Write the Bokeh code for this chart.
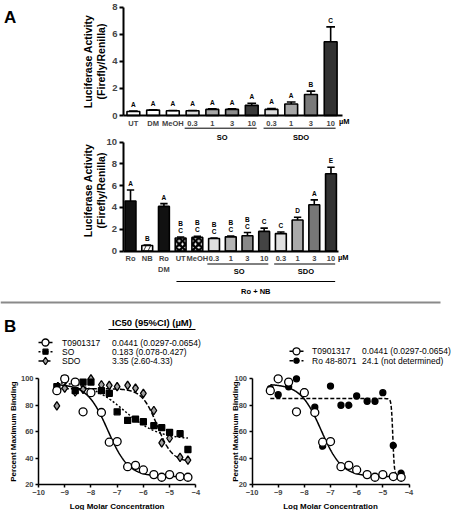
import numpy as np
from bokeh.plotting import figure
from bokeh.models import Range1d, LinearAxis, FixedTicker
from bokeh.core.properties import value
from bokeh.embed import file_html
from bokeh.resources import INLINE

# ---------------- data: panel A, top (no Ro) ----------------
top_labels = ["UT", "DM", "MeOH", "0.3", "1", "3", "10", "0.3", "1", "3", "10"]
top_means = [0.30, 0.40, 0.35, 0.35, 0.45, 0.45, 0.75, 0.45, 0.85, 1.55, 5.45]
top_upper = [0.33, 0.42, 0.37, 0.37, 0.50, 0.50, 0.90, 0.52, 1.00, 1.80, 6.55]
top_letters = ["A", "A", "A", "A", "A", "A", "A", "A", "A", "B", "C"]
top_groups = [("SO", 3, 6), ("SDO", 7, 10)]

# ---------------- data: panel A, bottom (Ro + NB) ----------------
bot_labels = ["Ro", "NB", "Ro\nDM", "UT", "MeOH", "0.3", "1", "3", "10", "0.3", "1", "3", "10"]
bot_means = [4.60, 0.50, 4.10, 1.20, 1.25, 1.15, 1.30, 1.40, 1.80, 1.60, 2.85, 4.25, 7.10]
bot_upper = [5.60, 0.55, 4.35, 1.28, 1.35, 1.18, 1.38, 1.70, 2.10, 1.75, 3.10, 4.70, 7.70]
bot_letters = ["A", "B", "A", "B\nC", "B\nC", "B\nC", "B\nC", "B\nC", "C", "C", "D", "A", "E"]
bot_groups = [("SO", 5, 8), ("SDO", 9, 12)]
bot_outer_group = ("Ro + NB", 3, 12)
unit_label = "µM"

# ---------------- data: panel B (binding) ----------------
log_conc = [-9.30, -9.00, -8.60, -8.30, -8.00, -7.60, -7.30, -7.00,
            -6.60, -6.30, -6.00, -5.60, -5.30, -5.00, -4.60, -4.30]
t09_bind = [91.0, 100.0, 97.5, 75.0, 89.5, 74.5, 52.0, 52.5,
            33.5, 34.5, 31.0, 27.5, 25.5, 27.5, 26.0, 25.5]
so_bind = [94.0, 100.0, 91.0, 97.5, 97.5, 91.0, 89.0, 75.0,
           68.5, 69.5, 67.5, 64.5, 63.0, 59.5, 58.5, 46.5]
sdo_bind = [79.5, 93.0, 90.0, 92.0, 100.0, 95.5, 95.0, 94.0,
            95.0, 93.0, 89.0, 76.0, 51.5, 55.0, 40.5, 38.5]
ro_bind = [92.5, 88.0, 94.0, 100.0, 90.0, 78.5, 49.0, 94.5,
           80.0, 80.0, 87.0, 83.0, 83.0, 89.5, 49.5, 28.5]

# fitted sigmoid parameters (IC50 in µM from the legend)
ic50_um = {"T0901317": 0.0441, "SO": 0.183, "SDO": 3.35, "Ro 48-8071": 24.1}
fit_top = {"T0901317": 96.0, "SO": 98.0, "SDO": 92.5, "Ro 48-8071": 85.0}
fit_bottom = {"T0901317": 26.0, "SO": 54.0, "SDO": 37.0, "Ro 48-8071": 27.0}
fit_hill = {"T0901317": 1.1, "SO": 0.65, "SDO": 1.5, "Ro 48-8071": 15.0}
ic50_text = {"T0901317": "0.0441 (0.0297-0.0654)", "SO": "0.183 (0.078-0.427)",
             "SDO": "3.35 (2.60-4.33)", "Ro 48-8071": "24.1 (not determined)"}
left_series = ["T0901317", "SO", "SDO"]
right_series = ["T0901317", "Ro 48-8071"]
bind_values = {"T0901317": t09_bind, "SO": so_bind, "SDO": sdo_bind, "Ro 48-8071": ro_bind}

# ---------------- styles ----------------
top_colors = ["#ffffff", "#ffffff", "#ffffff", "#dcdcdc", "#a6a6a6", "#8c8c8c", "#3a3a3a",
              "#dcdcdc", "#a6a6a6", "#7a7a7a", "#333333"]
bot_colors = ["#111111", "#ffffff", "#111111", "#ffffff", "#ffffff", "#e0e0e0", "#b4b4b4",
              "#888888", "#444444", "#e0e0e0", "#aaaaaa", "#777777", "#333333"]
bot_hatch = [" ", "right_diagonal_line", " ", "diagonal_cross", "diagonal_cross",
             " ", " ", " ", " ", " ", " ", " ", " "]
series_style = {
    "T0901317": dict(marker="circle", size=8, fill="white", dash="solid"),
    "SO": dict(marker="square", size=6, fill="black", dash="2 2"),
    "SDO": dict(marker="diamond", size=8.5, fill="#a0a0a0", dash="5 2"),
    "Ro 48-8071": dict(marker="circle", size=6, fill="black", dash="4 2"),
}
FONT = value("Liberation Sans")

# image-coordinate frame (reference pixel coordinates)
W, H = 457, 510
IX0, IX1 = 0.0, float(W)
IY0, IY1 = 0.0, float(H)


def xr(d0, d1, i0, i1):
    k = (d1 - d0) / (i1 - i0)
    return Range1d(d0 - (i0 - IX0) * k, d1 + (IX1 - i1) * k)


def yr(d0, d1, i0, i1):
    k = (d1 - d0) / (i0 - i1)
    return Range1d(d0 - (IY1 - i0) * k, d1 + (i1 - IY0) * k)


p = figure(width=W, height=H, output_backend="svg", toolbar_location=None,
           x_range=Range1d(IX0, IX1), y_range=Range1d(IY1, IY0),
           x_axis_type=None, y_axis_type=None, min_border=0,
           outline_line_color=None, background_fill_color="white",
           border_fill_color="white")

p.extra_x_ranges = {
    "at": xr(-0.5, 10.6, 123.0, 342.0),
    "ab": xr(-0.45, 12.45, 122.5, 338.0),
    "bl": xr(-10.0, -4.0, 38.0, 195.3),
    "br": xr(-10.0, -4.0, 251.5, 408.5),
}
p.extra_y_ranges = {
    "at": yr(0.0, 8.0, 115.0, 6.7),
    "ab": yr(0.0, 10.0, 250.5, 141.7),
    "bl": yr(20.0, 100.0, 484.0, 378.3),
    "br": yr(20.0, 100.0, 484.0, 378.3),
}
px_per_unit = {"at": (115.0 - 6.7) / 8.0, "ab": (250.5 - 141.7) / 10.0}
x_bounds = {"at": (-0.5, 10.6), "ab": (-0.45, 12.45)}


def txt(x, y, s, size, bold=True, align="center", baseline="middle", angle=0.0, xname="default"):
    p.text(x=[x], y=[y], text=[s], text_font=FONT, text_font_size=size,
           text_font_style="bold" if bold else "normal", text_align=align,
           text_baseline=baseline, angle=angle, text_color="black", x_range_name=xname)


def make_axis(name, loc, ticks, bounds, size, lw, tick_out, standoff, overrides=None):
    ax = LinearAxis(x_range_name=name, y_range_name=name, fixed_location=loc,
                    ticker=FixedTicker(ticks=ticks), bounds=bounds)
    ax.axis_line_width = lw
    ax.major_tick_line_width = lw
    ax.major_tick_out = tick_out
    ax.major_tick_in = 0
    ax.minor_tick_out = 0
    ax.minor_tick_in = 0
    ax.major_label_text_font = "Liberation Sans"
    ax.major_label_text_font_style = "bold"
    ax.major_label_text_font_size = size
    ax.major_label_standoff = standoff
    if overrides:
        ax.major_label_overrides = overrides
    return ax


def bar_panel(name, labels, means, upper, letters, colors, hatch, y_max, y_ticks,
              groups, group_line_y, group_text_y, outer=None):
    n = len(labels)
    idx = list(range(n))
    p.vbar(x=idx, top=means, bottom=0, width=0.65, fill_color=colors,
           hatch_pattern=hatch, hatch_color="black",
           hatch_weight=[2.6 if h == "diagonal_cross" else 0.8 for h in hatch],
           hatch_scale=[6.5 if h == "diagonal_cross" else 9.0 for h in hatch],
           line_color="black", line_width=1.6, x_range_name=name, y_range_name=name)
    # error bars (upper only)
    p.segment(x0=idx, y0=means, x1=idx, y1=upper, line_color="black", line_width=1.6,
              x_range_name=name, y_range_name=name)
    p.segment(x0=[i - 0.22 for i in idx], y0=upper, x1=[i + 0.22 for i in idx], y1=upper,
              line_color="black", line_width=1.6, x_range_name=name, y_range_name=name)
    # significance letters
    ppu = px_per_unit[name]
    lx, ly, lt = [], [], []
    for i, (u, s) in enumerate(zip(upper, letters)):
        lines = s.split("\n")[::-1]
        for j, t in enumerate(lines):
            lx.append(i)
            ly.append(u + (3.0 + 7.0 * j) / ppu)
            lt.append(t)
    p.text(x=lx, y=ly, text=lt, text_font=FONT, text_font_size="6.5px",
           text_font_style="bold", text_align="center", text_baseline="bottom",
           x_range_name=name, y_range_name=name)
    # axes
    xb = x_bounds[name]
    p.add_layout(make_axis(name, xb[0], y_ticks, (0, y_max), "9.5px", 2, 4, 2), "left")
    ov = {i: lab for i, lab in enumerate(labels)}
    p.add_layout(make_axis(name, 0, idx, xb, "7.5px", 2, 0, 3, overrides=ov), "below")
    # unit after last tick label
    txt(n - 1 + 0.42, group_line_y - 6.5, unit_label, "7.5px", align="left", xname=name)
    # group lines
    for g, a, b in groups:
        p.segment(x0=[a - 0.4], x1=[b + 0.25], y0=[group_line_y], y1=[group_line_y],
                  line_color="black", line_width=1, x_range_name=name)
        txt((a + b) / 2, group_text_y, g, "7.5px", xname=name)
    if outer is not None:
        g, a, b, ly_, ty_ = outer
        p.segment(x0=[a - 0.25], x1=[b + 0.25], y0=[ly_], y1=[ly_],
                  line_color="black", line_width=1, x_range_name=name)
        txt((a + b) / 2, ty_, g, "7.5px", xname=name)


bar_panel("at", top_labels, top_means, top_upper, top_letters, top_colors,
          [" "] * len(top_labels), 8, [0, 2, 4, 6, 8], top_groups, 127.7, 136.7)
bar_panel("ab", bot_labels, bot_means, bot_upper, bot_letters, bot_colors,
          bot_hatch, 10, [0, 2, 4, 6, 8, 10], bot_groups, 263.5, 271.0,
          outer=(bot_outer_group[0], bot_outer_group[1], bot_outer_group[2], 281.0, 291.0))

# y titles of panel A
for cy in (61.0, 190.0):
    txt(87.5, cy, "Luciferase Activity", "10.5px", angle=np.pi / 2)
    txt(100.0, cy, "(Firefly/Renilla)", "10.5px", angle=np.pi / 2)

# panel letters and separator
txt(3.5, 16.5, "A", "17px", align="left")
txt(3.5, 325.5, "B", "17px", align="left")
p.segment(x0=[0], x1=[440], y0=[302], y1=[302], line_color="#8a8a8a", line_width=2)

# ---------------- panel B ----------------
xc = np.linspace(-9.3, -4.3, 400)


def fit_curve(s):
    lic = np.log10(ic50_um[s] * 1e-6)
    return fit_bottom[s] + (fit_top[s] - fit_bottom[s]) / (1 + 10 ** ((xc - lic) * fit_hill[s]))


def draw_series(s, name):
    st = series_style[s]
    p.line(xc, fit_curve(s), line_color="black", line_width=1.5, line_dash=st["dash"],
           x_range_name=name, y_range_name=name)
    p.scatter(log_conc, bind_values[s], marker=st["marker"], size=st["size"],
              fill_color=st["fill"], line_color="black", line_width=1.3,
              x_range_name=name, y_range_name=name)


for s in ["SDO", "SO", "T0901317"]:
    draw_series(s, "bl")
for s in ["Ro 48-8071", "T0901317"]:
    draw_series(s, "br")

for name, xc_mid, ytx in (("bl", 116.6, 13.0), ("br", 330.0, 235.0)):
    p.add_layout(make_axis(name, -10, [20, 40, 60, 80, 100], (20, 100), "7.5px", 1.5, 3, 2), "left")
    p.add_layout(make_axis(name, 20, [-10, -9, -8, -7, -6, -5, -4], (-10, -4), "7.5px", 1.5, 3, 2), "below")
    txt(xc_mid, 505.5, "Log Molar Concentration", "8px")
    txt(ytx, 431.0, "Percent Maximum Binding", "8px", angle=np.pi / 2)

# header of the IC50 column
txt(151.5, 322.0, "IC50 (95%CI) (µM)", "9.5px")
p.segment(x0=[108], x1=[195], y0=[329], y1=[329], line_color="black", line_width=1)


# legends (drawn as a small table)
def legend(series, rows_y, mx, tx, vx):
    for s, y in zip(series, rows_y):
        st = series_style[s]
        p.segment(x0=[mx - 7], x1=[mx + 7], y0=[y], y1=[y], line_color="black",
                  line_width=1.5, line_dash=st["dash"])
        p.scatter([mx], [y], marker=st["marker"], size=st["size"] - 1, fill_color=st["fill"],
                  line_color="black", line_width=1.3)
        txt(tx, y, s, "8.5px", bold=False, align="left")
        txt(vx, y, ic50_text[s], "8.5px", bold=False, align="left")


legend(left_series, [342.0, 351.2, 360.5], 45.0, 61.5, 111.5)
legend(right_series, [350.8, 360.2], 296.0, 311.5, 361.5)

open("out.html", "w").write(file_html(p, INLINE))
